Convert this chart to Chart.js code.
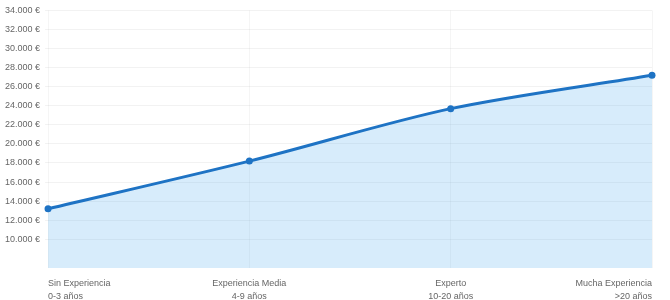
<!DOCTYPE html>
<html lang="es">
<head>
<meta charset="utf-8">
<title>Salario según experiencia</title>
<script src="https://cdn.jsdelivr.net/npm/chart.js@4"></script>
<style>
    html, body { margin: 0; padding: 0; background: #fff; }
    #contenedor { width: 670px; height: 300px; }
</style>
</head>
<body>
<div id="contenedor"><canvas id="salarioChart"></canvas></div>
<script>
// Categorías (dos líneas por etiqueta)
const categorias = [
    ['Sin Experiencia', '0-3 años'],
    ['Experiencia Media', '4-9 años'],
    ['Experto', '10-20 años'],
    ['Mucha Experiencia', '>20 años']
];

// Salario medio en euros
const salarios = [13200, 18200, 23700, 27200];

// Marcas del eje Y
const marcasY = [10000, 12000, 14000, 16000, 18000, 20000, 22000, 24000, 26000, 28000, 30000, 32000, 34000];
const ejeMin = 7000;
const ejeMax = 34000;

const formatoEuro = valor => String(Math.round(valor)).replace(/\B(?=(\d{3})+(?!\d))/g, '.') + ' €';

const fuente = { family: '"Liberation Sans", Arial, Helvetica, sans-serif', size: 9 };

const ctx = document.getElementById('salarioChart').getContext('2d');
new Chart(ctx, {
    type: 'line',
    data: {
        labels: categorias,
        datasets: [{
            data: salarios,
            borderColor: '#1e73c4',
            borderWidth: 3,
            backgroundColor: 'rgba(54, 162, 235, 0.2)',
            fill: 'start',
            tension: 0.3,
            pointRadius: 3.5,
            pointBackgroundColor: '#1e73c4',
            pointBorderColor: '#1e73c4',
            pointBorderWidth: 0
        }]
    },
    options: {
        responsive: true,
        maintainAspectRatio: false,
        animation: false,
        layout: {
            padding: { left: 0, right: 18, top: 2, bottom: -12 }
        },
        scales: {
            x: {
                border: { display: false },
                grid: {
                    color: 'rgba(0, 0, 0, 0.04)',
                    drawTicks: false
                },
                ticks: {
                    align: 'inner',
                    maxRotation: 0,
                    autoSkip: false,
                    padding: 9,
                    color: '#666',
                    font: Object.assign({ lineHeight: 1.45 }, fuente)
                }
            },
            y: {
                min: ejeMin,
                max: ejeMax,
                border: { display: false },
                grid: {
                    color: 'rgba(0, 0, 0, 0.05)',
                    tickLength: 3
                },
                afterBuildTicks: eje => {
                    eje.ticks = marcasY.map(v => ({ value: v }));
                },
                ticks: {
                    padding: 5,
                    color: '#666',
                    font: fuente,
                    callback: valor => formatoEuro(valor)
                }
            }
        },
        plugins: {
            legend: { display: false },
            tooltip: { enabled: false }
        }
    }
});
</script>
</body>
</html>
